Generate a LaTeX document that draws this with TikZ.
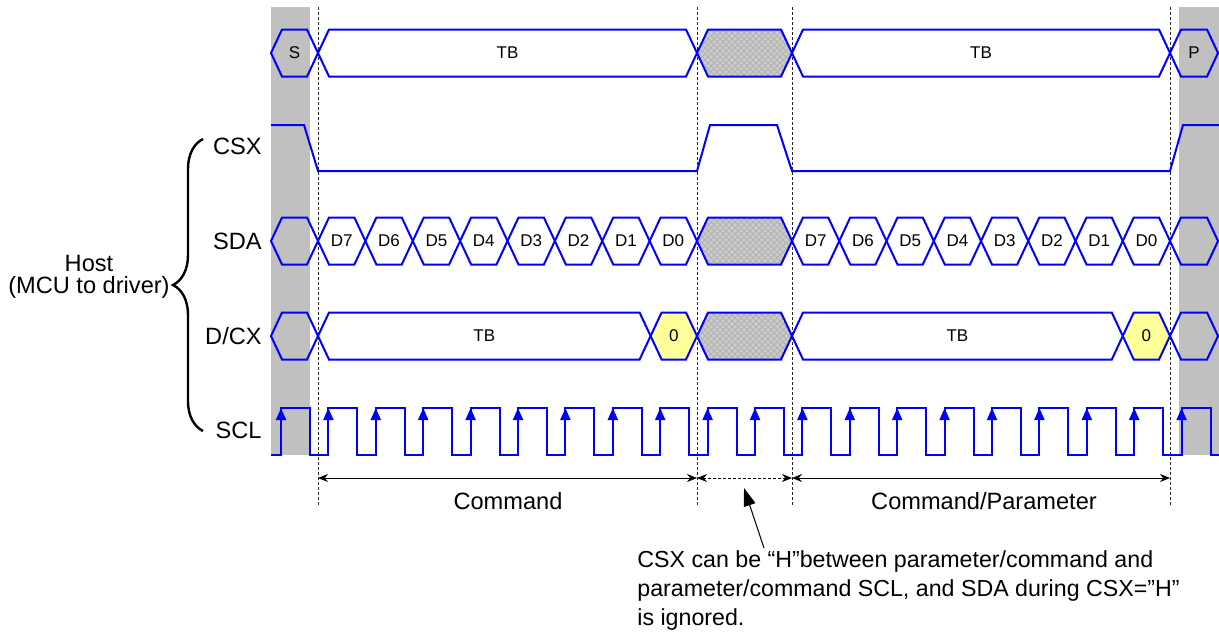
\documentclass[tikz,border=0pt]{standalone}
\usepackage{fontspec}
\setmainfont{Liberation Sans}
\usetikzlibrary{arrows.meta,patterns,decorations.pathreplacing}
\definecolor{bandgray}{RGB}{192,192,192}
\definecolor{zeroyellow}{RGB}{255,255,153}
\tikzset{
  wave/.style={blue,line width=1pt},
  idle/.style={wave,preaction={fill=gray!40},pattern=crosshatch,pattern color=gray!60},
  zero/.style={wave,fill=zeroyellow},
  celltext/.style={font=\fontsize{8.5}{10}\selectfont,inner sep=0pt},
  bigtext/.style={font=\fontsize{11.8}{14.5}\selectfont,inner sep=0pt},
  sigtext/.style={bigtext,anchor=east},
  guide/.style={gray!30!black,line width=0.5pt,dash pattern=on 1.5pt off 1pt},
  dim/.style={line width=0.5pt,{Stealth[length=5pt,width=4pt]}-{Stealth[length=5pt,width=4pt]}},
}
% one bus cell: name, from, to, centre line, style, label
\newcommand{\buscell}[6]{%
  \draw[#5] ({#2},{#4}) -- ({#2+11},{#4-23.5}) -- ({#3-11},{#4-23.5}) -- ({#3},{#4})
    -- ({#3-11},{#4+23.5}) -- ({#2+11},{#4+23.5}) -- cycle;
  \node[celltext] (#1) at ({(#2+#3)/2},{#4}) {#6};}

\begin{document}
\begin{tikzpicture}[x=0.5pt,y=-0.5pt]
\useasboundingbox (0,0) rectangle (1219,633);

% start and stop
\fill[bandgray] (271,7) rectangle (310,455);
\fill[bandgray] (1179,7) rectangle (1219,455);
\foreach \x in {318,697,792,1170}
  \draw[guide] (\x,7) -- (\x,505);

% top row
\buscell{s}{271}{318}{53}{wave}{S}
\buscell{tbA}{318}{697}{53}{wave}{TB}
\buscell{idleA}{697}{792}{53}{idle}{}
\buscell{tbB}{792}{1170}{53}{wave}{TB}
\buscell{p}{1170}{1218}{53}{wave}{P}

% CSX
\draw[wave] (271,125) -- (304,125) -- (318,171) -- (697,171) -- (710,125) -- (777,125)
  -- (792,171) -- (1170,171) -- (1183,125) -- (1219,125);

% SDA
\buscell{sdaS}{271}{318}{241}{wave}{}
\foreach \b [count=\i from 0] in {7,...,0} {
  \pgfmathsetmacro{\xa}{318+47.375*\i}
  \pgfmathsetmacro{\xb}{\xa+47.375}
  \buscell{cmd\b}{\xa}{\xb}{241}{wave}{D\b}
  \pgfmathsetmacro{\xa}{792+47.25*\i}
  \pgfmathsetmacro{\xb}{\xa+47.25}
  \buscell{par\b}{\xa}{\xb}{241}{wave}{D\b}
}
\buscell{sdaI}{697}{792}{241}{idle}{}
\buscell{sdaP}{1170}{1218}{241}{wave}{}

% D/CX
\buscell{dcS}{271}{318}{336}{wave}{}
\buscell{dcA}{318}{650.6}{336}{wave}{TB}
\buscell{zeroA}{650.6}{697}{336}{zero}{0}
\buscell{dcI}{697}{792}{336}{idle}{}
\buscell{dcB}{792}{1122.75}{336}{wave}{TB}
\buscell{zeroB}{1122.75}{1170}{336}{zero}{0}
\buscell{dcP}{1170}{1218}{336}{wave}{}

% SCL
\draw[wave] (271,455) \foreach \k in {0,...,19} {
  -- ({281+47.4*\k},455) -- ++(0,-47) -- ++(29,0) -- ++(0,47) } -- (1219,455);
\foreach \k in {0,...,19}
  \draw[wave,-{Triangle[width=5pt,length=6pt]}] ({281+47.4*\k},445) -- ++(0,-37);

% signal names
\node[sigtext] (csx) at (262,146) {CSX};
\node[sigtext] (sda) at (262,241) {SDA};
\node[sigtext] (dcx) at (262,336) {D/CX};
\node[sigtext] (scl) at (262,430) {SCL};

\coordinate (braceB) at (203,431);
\coordinate (braceT) at (203,139);
\draw[line width=1.2pt,decorate,decoration={brace,amplitude=15pt}] (braceB) -- (braceT);
\node[bigtext,align=center,font=\fontsize{11.8}{10.8}\selectfont] (host) at (89,277) {Host\\(MCU to driver)};

% frame lengths
\coordinate (cmdL) at (318,478);
\coordinate (cmdR) at (697,478);
\coordinate (gapR) at (792,478);
\coordinate (parR) at (1170,478);
\draw[dim] (cmdL) -- (cmdR);
\draw[dim,dash pattern=on 1.5pt off 1pt] (cmdR) -- (gapR);
\draw[dim] (gapR) -- (parR);
\node[bigtext] (cmd) at (508,501) {Command};
\node[bigtext] (par) at (984,501) {Command/Parameter};

\node[bigtext,anchor=north west,align=left,font=\fontsize{11.6}{14.5}\selectfont] (note) at (637,550)
  {CSX can be “H”between parameter/command and\\
   parameter/command SCL, and SDA during CSX=”H”\\
   is ignored.};
\coordinate (noteT) at (764,548);
\coordinate (gapM) at (744,488);
\draw[line width=0.5pt,-{Triangle[width=6pt,length=9pt]}] (noteT) -- (gapM);

\end{tikzpicture}
\end{document}
